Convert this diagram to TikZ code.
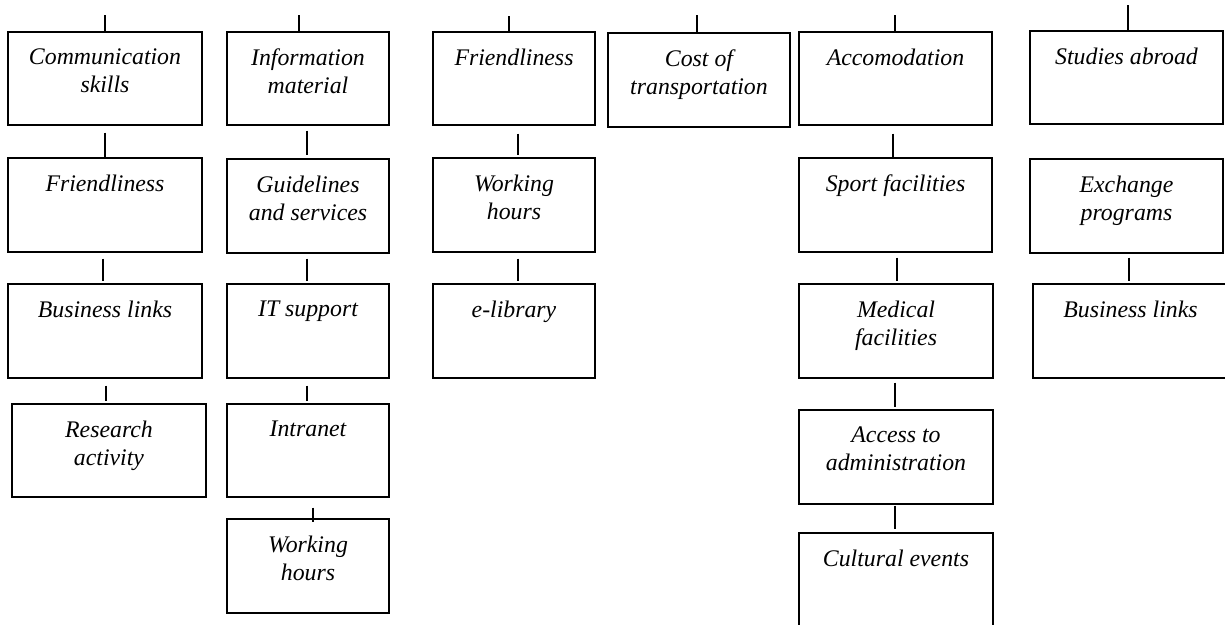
\documentclass[tikz,border=0pt]{standalone}
\usepackage{fontspec}
\setmainfont{Liberation Serif}
\tikzset{
 box/.style={draw, line width=1.2pt, inner sep=0pt, rectangle},
 lbl/.style={align=center, inner sep=0pt, font=\fontsize{23.8}{28}\selectfont\itshape},
 conn/.style={line width=2.6pt},
}
\newcommand\bx[6]{%
 \node[box, minimum width={(#4-#2)*1pt}, minimum height={(#5-#3)*1pt}] (#1) at ({(#2+#4)/2},{(#3+#5)/2}) {};
 \node[lbl, anchor=north] (#1t) at ([yshift=-17pt]#1.north) {#6};}
\newcommand\cn[5]{\draw[conn] ([xshift=#3pt,yshift=-#4pt]#1.south) coordinate (#1#2s) -- ([yshift=#5pt]#1#2s |- #2.north);}
\newcommand\tk[3]{\coordinate (#1top) at (#2,#3); \draw[conn] (#1top) -- (#1top |- #1.north);}
\begin{document}
\begin{tikzpicture}[x=1pt,y=-1pt]
\clip (0,0) rectangle (1225,624);
% column 1
\bx{c1}{8}{32}{202}{125}{Communication\\skills}
\bx{f1}{8}{158}{202}{252}{Friendliness}
\bx{b1}{8}{284}{202}{378}{Business links}
\bx{r1}{12}{404}{206}{497}{Research\\activity}
% column 2
\bx{i2}{227}{32}{389}{125}{Information\\material}
\bx{g2}{227}{159}{389}{253}{Guidelines\\and services}
\bx{s2}{227}{284}{389}{378}{IT support}
\bx{n2}{227}{404}{389}{497}{Intranet}
\bx{w2}{227}{519}{389}{613}{Working\\hours}
% column 3
\bx{f3}{433}{32}{595}{125}{Friendliness}
\bx{w3}{433}{158}{595}{252}{Working\\hours}
\bx{e3}{433}{284}{595}{378}{e-library}
% column 4
\bx{c4}{608}{33}{790}{127}{Cost of\\transportation}
% column 5
\bx{a5}{799}{32}{992}{125}{Accomodation}
\bx{s5}{799}{158}{992}{252}{Sport facilities}
\bx{m5}{799}{284}{993}{378}{Medical\\facilities}
\bx{d5}{799}{410}{993}{504}{Access to\\administration}
\bx{u5}{799}{533}{993}{627}{Cultural events}
% column 6
\bx{h6}{1030}{31}{1223}{124}{Studies abroad}
\bx{x6}{1030}{159}{1223}{253}{Exchange\\programs}
\bx{k6}{1033}{284}{1228}{378}{Business links}
% top ticks
\tk{c1}{105}{15}
\tk{i2}{299}{15}
\tk{f3}{509}{16}
\tk{c4}{697}{15}
\tk{a5}{895}{15}
\tk{h6}{1128}{5}
% connectors
\cn{c1}{f1}{0}{7}{0}
\cn{f1}{b1}{-2}{6}{2}
\cn{b1}{r1}{1}{7}{2}
\cn{i2}{g2}{-1}{5}{3}
\cn{g2}{s2}{-1}{5}{2}
\cn{s2}{n2}{-1}{7}{2}
\cn{n2}{w2}{5}{10}{-4}
\cn{f3}{w3}{4}{8}{2}
\cn{w3}{e3}{4}{6}{2}
\cn{a5}{s5}{-2.5}{8}{0}
\cn{s5}{m5}{1.5}{5}{2}
\cn{m5}{d5}{-1}{4}{2}
\cn{d5}{u5}{-1}{1}{3}
\cn{x6}{k6}{2.5}{4}{2}
\end{tikzpicture}
\end{document}
